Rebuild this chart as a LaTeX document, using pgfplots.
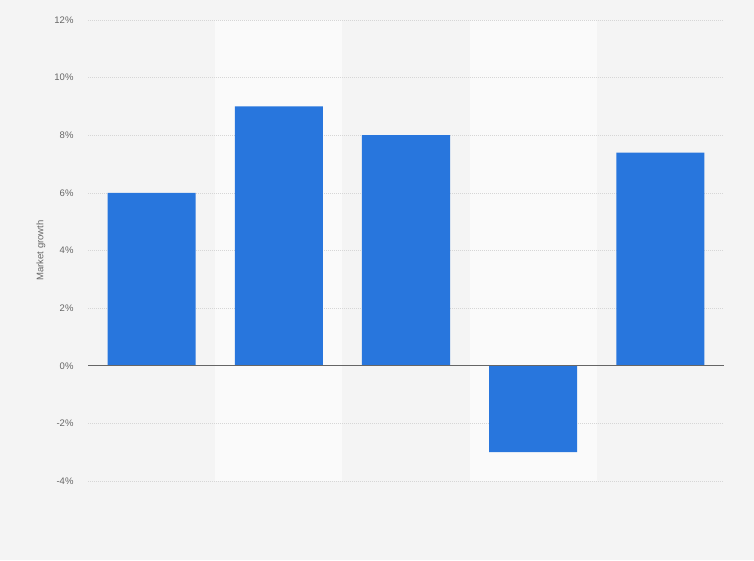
\documentclass[border=0pt]{standalone}
\usepackage{pgfplots}
\pgfplotsset{compat=1.18}
\usepackage{fontspec}
\setmainfont{Liberation Sans}

\definecolor{bg}{HTML}{F4F4F4}
\definecolor{stripe}{HTML}{FAFAFA}
\definecolor{barblue}{HTML}{2876DD}
\definecolor{gridgray}{HTML}{D6D6D6}
\definecolor{labelgray}{HTML}{666666}

\begin{document}
\begin{tikzpicture}
\begin{axis}[
    set layers,
    clip=false,
    scale only axis,
    width=636pt, height=461pt,
    xmin=-0.5, xmax=4.5,
    ymin=-4, ymax=12,
    ytick={-4,-2,0,2,4,6,8,10,12},
    xtick=\empty,
    axis line style={draw=none},
    major tick length=0pt,
    ymajorgrids,
    grid style={gridgray, dash pattern=on 1pt off 1pt, line width=0.6pt},
    yticklabel={\pgfmathprintnumber{\tick}\%},
    /pgf/number format/assume math mode=true,
    yticklabel style={font=\fontsize{9.5}{11}\selectfont, text=labelgray, xshift=-11pt},
    ylabel={Market growth},
    ylabel style={font=\fontsize{9.5}{11}\selectfont, text=labelgray, at={(-39pt,0.5)}, anchor=south},
    ybar, bar width=0.692, bar shift=0pt,
]
\begin{pgfonlayer}{axis background}
% page background, 754 x 560 with the plot area at (88,79)-(724,540)
\fill[bg] (rel axis cs:-0.138365,-0.171367) rectangle (rel axis cs:1.047170,1.043384);
\fill[stripe] (axis cs:0.5,-4) rectangle (axis cs:1.5,12);
\fill[stripe] (axis cs:2.5,-4) rectangle (axis cs:3.5,12);
\end{pgfonlayer}
\addplot[draw=none, fill=barblue] coordinates {(0,6) (1,9) (2,8) (3,-3) (4,7.4)};
\draw[color=black!60, line width=1pt] (axis cs:-0.5,0) -- (axis cs:4.5,0);
\end{axis}
\end{tikzpicture}
\end{document}
